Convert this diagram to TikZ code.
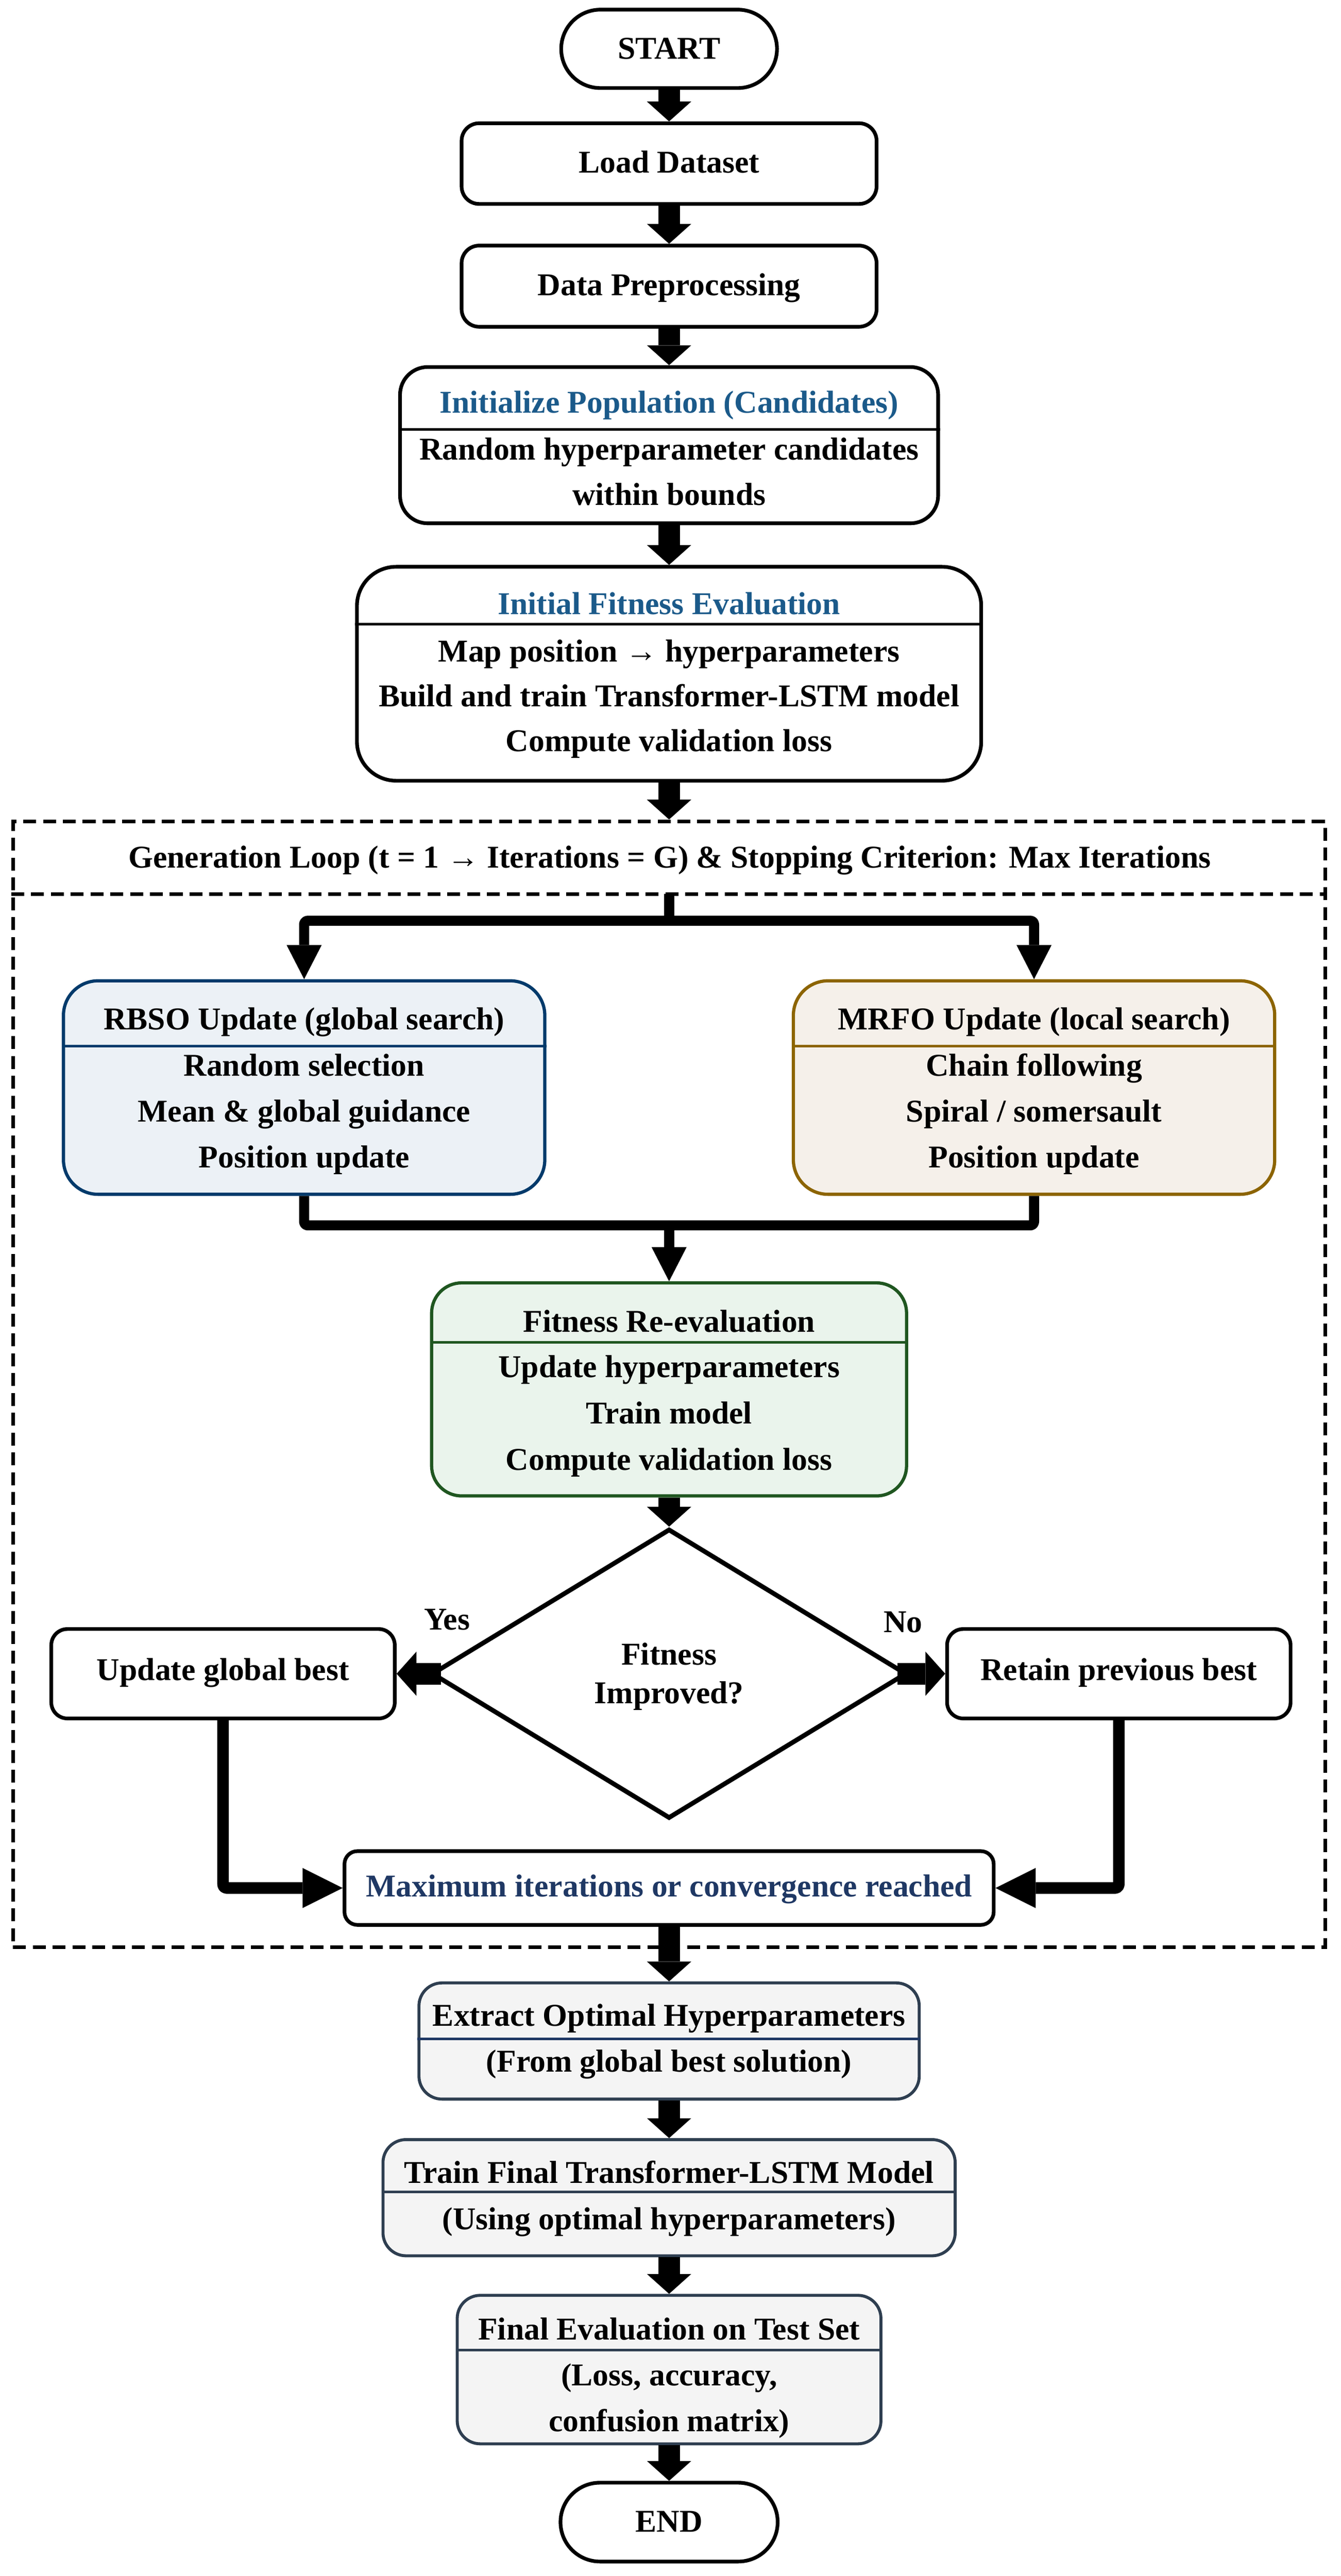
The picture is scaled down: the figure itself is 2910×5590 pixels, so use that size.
\documentclass[tikz,border=0pt]{standalone}
\usepackage{fontspec}
\setmainfont{Liberation Serif}
\usetikzlibrary{arrows.meta,shapes.geometric}
\definecolor{titleblue}{HTML}{1B5A8A}
\definecolor{navy}{HTML}{1F3864}
\definecolor{rbsoborder}{HTML}{013A6B}
\definecolor{rbsofill}{HTML}{ECF1F6}
\definecolor{mrfoborder}{HTML}{8C6400}
\definecolor{mrfofill}{HTML}{F5F0EA}
\definecolor{refitborder}{HTML}{1F5620}
\definecolor{refitfill}{HTML}{EAF4EC}
\definecolor{finalborder}{HTML}{2E3E50}
\definecolor{finalfill}{HTML}{F4F4F4}
\begin{document}
\begin{tikzpicture}[x=0.01cm,y=-0.01cm,
  every node/.style={font=\fontsize{19.6pt}{24pt}\selectfont\bfseries, inner sep=0pt},
  txt/.style={anchor=base},
  blkbox/.style={draw=black, line width=0.08cm, fill=white, rectangle},
  rbsobox/.style={draw=rbsoborder, fill=rbsofill, line width=0.07cm, rectangle},
  mrfobox/.style={draw=mrfoborder, fill=mrfofill, line width=0.07cm, rectangle},
  refitbox/.style={draw=refitborder, fill=refitfill, line width=0.07cm, rectangle},
  finbox/.style={draw=finalborder, fill=finalfill, line width=0.065cm, rectangle},
  sepline/.style={line width=0.055cm},
  loopframe/.style={draw=black, line width=0.08cm, dash pattern=on 0.28cm off 0.15cm},
  bigarrow/.style={line width=0.47cm, -{Triangle[width=0.96cm,length=0.43cm,line width=0pt]}},
  splitline/.style={line width=0.22cm, line join=round, rounded corners=0.08cm},
  splitarrow/.style={line width=0.22cm, line join=round, rounded corners=0.08cm, -{Triangle[width=0.76cm,length=0.74cm,line width=0pt]}},
  harrow/.style={line width=0.25cm, line join=round, rounded corners=0.08cm, -{Triangle[width=0.87cm,length=0.87cm,line width=0pt]}}
]
\useasboundingbox (0,0) rectangle (2910,5590);

% ---------- top part ----------
\node[blkbox, minimum width=4.68cm, minimum height=1.70cm, rounded corners=0.85cm] (start) at (1452,106) {};
\node[txt] (tstart) at (1452,128) {START};

\node[blkbox, minimum width=9.00cm, minimum height=1.75cm, rounded corners=0.38cm] (load) at (1452,355) {};
\node[txt] (tload) at (1452,375) {Load Dataset};

\node[blkbox, minimum width=9.00cm, minimum height=1.76cm, rounded corners=0.38cm] (prep) at (1452,621) {};
\node[txt] (tprep) at (1452,641) {Data Preprocessing};

\node[blkbox, minimum width=11.67cm, minimum height=3.39cm, rounded corners=0.60cm] (init) at (1452,966) {};
\draw[sepline] (init.west |- 0,932) -- (init.east |- 0,932);
\node[txt, text=titleblue] (tinit) at (1452,896) {Initialize Population (Candidates)};
\node[txt] (tinit1) at (1452,998) {Random hyperparameter candidates};
\node[txt] (tinit2) at (1452,1096) {within bounds};

\node[blkbox, minimum width=13.54cm, minimum height=4.64cm, rounded corners=0.85cm] (ifit) at (1452,1462) {};
\draw[sepline] (ifit.west |- 0,1354) -- (ifit.east |- 0,1354);
\node[txt, text=titleblue] (tifit) at (1452,1333) {Initial Fitness Evaluation};
\node[txt] (tifit1) at (1452,1436) {Map position → hyperparameters};
\node[txt] (tifit2) at (1452,1533) {Build and train Transformer-LSTM model};
\node[txt] (tifit3) at (1452,1631) {Compute validation loss};

% ---------- loop frame ----------
\node[loopframe, minimum width=28.46cm, minimum height=24.42cm] (loop) at (1452,3004) {};
\draw[loopframe] (loop.west |- 0,1940) -- (loop.east |- 0,1940);
\node[txt] (thdr) at (1453,1883) {Generation Loop (t = 1 → Iterations = G) \& Stopping Criterion: Max Iterations};
\coordinate (hb) at (1452,1940);
\coordinate (sp) at (1452,1998);
\coordinate (mp) at (1452,2659);

\node[rbsobox, minimum width=10.44cm, minimum height=4.63cm, rounded corners=0.75cm] (rbso) at (660,2360) {};
\draw[sepline, draw=rbsoborder] (rbso.west |- 0,2270) -- (rbso.east |- 0,2270);
\node[txt] (trbso) at (660,2234) {RBSO Update (global search)};
\node[txt] (trbso1) at (660,2335) {Random selection};
\node[txt] (trbso2) at (660,2434) {Mean \& global guidance};
\node[txt] (trbso3) at (660,2534) {Position update};

\node[mrfobox, minimum width=10.44cm, minimum height=4.63cm, rounded corners=0.75cm] (mrfo) at (2244,2360) {};
\draw[sepline, draw=mrfoborder] (mrfo.west |- 0,2270) -- (mrfo.east |- 0,2270);
\node[txt] (tmrfo) at (2244,2234) {MRFO Update (local search)};
\node[txt] (tmrfo1) at (2244,2335) {Chain following};
\node[txt] (tmrfo2) at (2244,2434) {Spiral / somersault};
\node[txt] (tmrfo3) at (2244,2534) {Position update};

\node[refitbox, minimum width=10.30cm, minimum height=4.62cm, rounded corners=0.65cm] (refit) at (1452,3015) {};
\draw[sepline, draw=refitborder] (refit.west |- 0,2913) -- (refit.east |- 0,2913);
\node[txt] (trefit) at (1452,2890) {Fitness Re-evaluation};
\node[txt] (trefit1) at (1452,2989) {Update hyperparameters};
\node[txt] (trefit2) at (1452,3090) {Train model};
\node[txt] (trefit3) at (1452,3190) {Compute validation loss};

\node[diamond, aspect=1.64, draw=black, fill=white, line width=0.1cm, minimum width=10.30cm, minimum height=6.28cm] (dia) at (1452,3632) {};
\node[txt] (tdia1) at (1452,3613) {Fitness};
\node[txt] (tdia2) at (1452,3697) {Improved?};
\node[txt] (tyes) at (970,3537) {Yes};
\node[txt] (tno) at (1960,3542) {No};

\node[blkbox, minimum width=7.45cm, minimum height=1.94cm, rounded corners=0.35cm] (ugb) at (484,3632) {};
\node[txt] (tugb) at (484,3646) {Update global best};
\node[blkbox, minimum width=7.45cm, minimum height=1.94cm, rounded corners=0.35cm] (rpb) at (2428,3632) {};
\node[txt] (trpb) at (2428,3646) {Retain previous best};

\node[blkbox, minimum width=14.08cm, minimum height=1.60cm, rounded corners=0.28cm] (maxb) at (1452,4097) {};
\node[txt, text=navy] (tmaxb) at (1452,4116) {Maximum iterations or convergence reached};

% ---------- bottom part ----------
\node[finbox, minimum width=10.85cm, minimum height=2.52cm, rounded corners=0.50cm] (extr) at (1452,4429) {};
\draw[sepline, draw=navy] (extr.west |- 0,4424) -- (extr.east |- 0,4424);
\node[txt] (textr) at (1452,4397) {Extract Optimal Hyperparameters};
\node[txt] (textr1) at (1452,4496) {(From global best solution)};

\node[finbox, minimum width=12.41cm, minimum height=2.52cm, rounded corners=0.50cm] (trainf) at (1452,4769) {};
\draw[sepline, draw=finalborder] (trainf.west |- 0,4756) -- (trainf.east |- 0,4756);
\node[txt] (ttrainf) at (1452,4737) {Train Final Transformer-LSTM Model};
\node[txt] (ttrainf1) at (1452,4838) {(Using optimal hyperparameters)};

\node[finbox, minimum width=9.19cm, minimum height=3.22cm, rounded corners=0.50cm] (finev) at (1452,5142) {};
\draw[sepline, draw=finalborder] (finev.west |- 0,5100) -- (finev.east |- 0,5100);
\node[txt] (tfinev) at (1452,5077) {Final Evaluation on Test Set};
\node[txt] (tfinev1) at (1452,5177) {(Loss, accuracy,};
\node[txt] (tfinev2) at (1452,5276) {confusion matrix)};

\node[blkbox, minimum width=4.71cm, minimum height=1.71cm, rounded corners=0.855cm] (endn) at (1452,5473) {};
\node[txt] (tend) at (1452,5494) {END};

% ---------- connectors ----------
\draw[bigarrow] (start.south) -- (load.north);
\draw[bigarrow] (load.south) -- (prep.north);
\draw[bigarrow] (prep.south) -- (init.north);
\draw[bigarrow] (init.south) -- (ifit.north);
\draw[bigarrow] (ifit.south) -- (loop.north);

\draw[splitline] (hb) -- (sp);
\draw[splitarrow] (sp) -| (rbso.north);
\draw[splitarrow] (sp) -| (mrfo.north);
\draw[splitline] (rbso.south) |- (mp);
\draw[splitline] (mrfo.south) |- (mp);
\draw[splitarrow] (mp) -- (refit.north);

\draw[bigarrow] (refit.south) -- (dia.north);
\draw[bigarrow] ([xshift=0.25cm]dia.west) -- (ugb.east);
\draw[bigarrow] ([xshift=-0.25cm]dia.east) -- (rpb.west);
\draw[harrow] (ugb.south) |- (maxb.west);
\draw[harrow] (rpb.south) |- (maxb.east);

\draw[bigarrow] (maxb.south) -- (extr.north);
\draw[bigarrow] (extr.south) -- (trainf.north);
\draw[bigarrow] (trainf.south) -- (finev.north);
\draw[bigarrow] (finev.south) -- (endn.north);
\end{tikzpicture}
\end{document}
